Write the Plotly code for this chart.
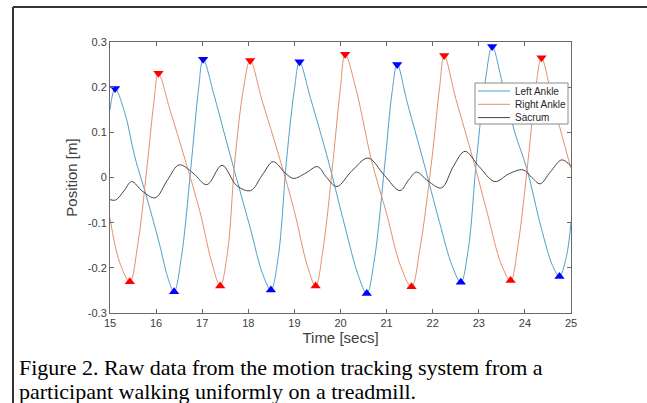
import plotly.graph_objects as go

# ---- data ----
left_t = [15.00, 15.11, 15.33, 15.54, 15.80, 16.08, 16.25, 16.39, 16.55, 16.77, 16.92, 17.02,
          17.25, 17.50, 17.74, 18.05, 18.30, 18.49, 18.65, 18.83, 19.00, 19.11,
          19.35, 19.73, 20.10, 20.38, 20.57, 20.73, 20.97, 21.12, 21.23,
          21.45, 21.79, 22.15, 22.42, 22.61, 22.77, 22.95, 23.15, 23.29,
          23.52, 23.78, 24.04, 24.35, 24.60, 24.75, 24.90, 25.00]
left_y = [0.150, 0.197, 0.140, 0.045, -0.045, -0.150, -0.220, -0.253, -0.175, 0.039, 0.195, 0.262,
          0.185, 0.090, 0.000, -0.115, -0.210, -0.249, -0.175, 0.039, 0.195, 0.256,
          0.175, 0.039, -0.110, -0.215, -0.257, -0.185, 0.039, 0.190, 0.250,
          0.165, 0.039, -0.100, -0.195, -0.232, -0.160, 0.039, 0.220, 0.290,
          0.205, 0.100, 0.020, -0.110, -0.195, -0.219, -0.175, -0.100]

right_t = [15.00, 15.20, 15.43, 15.60, 15.80, 15.95, 16.05,
           16.30, 16.63, 16.95, 17.20, 17.39, 17.55, 17.71, 17.90, 18.04,
           18.30, 18.69, 19.00, 19.28, 19.46, 19.62, 19.84, 20.00, 20.10,
           20.35, 20.67, 21.00, 21.30, 21.54, 21.72, 21.98, 22.15, 22.25,
           22.50, 22.88, 23.20, 23.48, 23.69, 23.85, 24.07, 24.25, 24.36,
           24.60, 25.00]
right_y = [-0.090, -0.185, -0.231, -0.150, 0.020, 0.165, 0.231,
           0.150, 0.039, -0.075, -0.185, -0.240, -0.165, 0.039, 0.200, 0.259,
           0.170, 0.039, -0.075, -0.195, -0.240, -0.160, 0.039, 0.200, 0.273,
           0.190, 0.039, -0.080, -0.195, -0.242, -0.160, 0.039, 0.200, 0.270,
           0.175, 0.039, -0.085, -0.190, -0.228, -0.150, 0.039, 0.210, 0.265,
           0.170, 0.020]

sacrum_t = [15.00, 15.12, 15.30, 15.47, 15.70, 15.98, 16.25, 16.50, 16.80, 17.10, 17.43, 17.75,
            18.05, 18.30, 18.54, 18.80, 18.98, 19.25, 19.50, 19.70, 19.92, 20.25, 20.60, 20.95,
            21.29, 21.48, 21.65, 21.90, 22.19, 22.45, 22.70, 23.00, 23.35, 23.65, 23.96, 24.15,
            24.33, 24.55, 24.80, 25.00]
sacrum_y = [-0.049, -0.050, -0.030, -0.009, -0.030, -0.045, -0.005, 0.028, 0.010, -0.016, 0.027, -0.018,
            -0.029, 0.005, 0.035, 0.010, -0.002, 0.010, 0.024, 0.000, -0.020, 0.015, 0.043, 0.005,
            -0.029, -0.005, 0.012, -0.008, -0.023, 0.025, 0.058, 0.025, -0.009, 0.008, 0.017, 0.000,
            -0.014, 0.012, 0.039, 0.025]

left_peak_t = [15.11, 17.02, 19.11, 21.23, 23.29]
left_peak_y = [0.197, 0.262, 0.256, 0.250, 0.290]
left_trough_t = [16.39, 18.49, 20.57, 22.61, 24.75]
left_trough_y = [-0.253, -0.249, -0.257, -0.232, -0.219]
right_peak_t = [16.05, 18.04, 20.10, 22.25, 24.36]
right_peak_y = [0.231, 0.259, 0.273, 0.270, 0.265]
right_trough_t = [15.43, 17.39, 19.46, 21.54, 23.69]
right_trough_y = [-0.231, -0.240, -0.240, -0.242, -0.228]

series_names = ["Left Ankle", "Right Ankle", "Sacrum"]
series_colors = ["#4f9fcc", "#e3916a", "#444444"]

x_ticks = list(range(15, 26))
y_ticks = [-0.3, -0.2, -0.1, 0, 0.1, 0.2, 0.3]
y_tick_text = ["-0.3", "-0.2", "-0.1", "0", "0.1", "0.2", "0.3"]

FONT = "Liberation Sans, Arial, Helvetica, sans-serif"
SERIF = "Liberation Serif, Times New Roman, serif"
AX = "#6a6a6a"
TXT = "#404040"

# plot area in pixels (for placing the hand-drawn legend / frame in paper units)
L, R, T, B = 110, 571, 42, 313
def px(xp):
    return (xp - L) / (R - L)
def py(yp):
    return (B - yp) / (B - T)

fig = go.Figure()
for t, y, name, col in [(left_t, left_y, series_names[0], series_colors[0]),
                        (right_t, right_y, series_names[1], series_colors[1]),
                        (sacrum_t, sacrum_y, series_names[2], series_colors[2])]:
    fig.add_trace(go.Scatter(x=t, y=y, mode="lines", name=name, showlegend=False,
                             line=dict(color=col, width=1, shape="spline", smoothing=1.0)))

for tx, ty, sym, col in [(left_peak_t, left_peak_y, "triangle-down", "#0000ff"),
                         (left_trough_t, left_trough_y, "triangle-up", "#0000ff"),
                         (right_peak_t, right_peak_y, "triangle-down", "#ff0000"),
                         (right_trough_t, right_trough_y, "triangle-up", "#ff0000")]:
    fig.add_trace(go.Scatter(x=tx, y=ty, mode="markers", showlegend=False,
                             marker=dict(symbol=sym, size=9, color=col, line=dict(width=0))))

fig.update_layout(
    width=647, height=403,
    margin=dict(l=L, r=647 - R, t=T, b=403 - B),
    paper_bgcolor="white", plot_bgcolor="white",
    font=dict(family=FONT, color=TXT, size=11),
    showlegend=False,
)
fig.update_xaxes(range=[15, 25], tickvals=x_ticks, ticks="inside", ticklen=4,
                 tickcolor=AX, showline=True, linecolor=AX, linewidth=1, mirror="allticks",
                 showgrid=False, zeroline=False, tickfont=dict(size=11, color=TXT),
                 title=dict(text="Time [secs]", font=dict(size=15, color=TXT), standoff=3))
fig.update_yaxes(range=[-0.3, 0.3], tickvals=y_ticks, ticktext=y_tick_text, ticks="inside",
                 ticklen=4, tickcolor=AX, showline=True, linecolor=AX, linewidth=1,
                 mirror="allticks", showgrid=False, zeroline=False,
                 tickfont=dict(size=11, color=TXT),
                 title=dict(text="Position [m]", font=dict(size=15, color=TXT), standoff=6))

# legend box (drawn compactly like the MATLAB legend)
fig.add_shape(type="rect", xref="paper", yref="paper", x0=px(475), x1=px(568), y0=py(124), y1=py(83),
              line=dict(color="#8a8a8a", width=1), fillcolor="white", layer="above")
for i, (name, col) in enumerate(zip(series_names, series_colors)):
    yy = py(91 + i * 13.3)
    fig.add_shape(type="line", xref="paper", yref="paper", x0=px(478), x1=px(510), y0=yy, y1=yy,
                  line=dict(color=col, width=1), layer="above")
    fig.add_annotation(text=name, xref="paper", yref="paper", x=px(513), y=yy,
                       xanchor="left", yanchor="middle", showarrow=False,
                       font=dict(family=FONT, size=10, color="#262626"))

# figure frame (top and left edges visible)
fig.add_shape(type="line", xref="paper", yref="paper", x0=px(13), x1=px(660), y0=py(7), y1=py(7),
              line=dict(color="#333333", width=2))
fig.add_shape(type="line", xref="paper", yref="paper", x0=px(13), x1=px(13), y0=py(7), y1=py(420),
              line=dict(color="#333333", width=2))

fig.add_annotation(text="Figure 2. Raw data from the motion tracking system from a",
                   xref="paper", yref="paper", x=px(17), y=py(367), xanchor="left", yanchor="middle",
                   showarrow=False, font=dict(family=SERIF, size=22, color="black"))
fig.add_annotation(text="participant walking uniformly on a treadmill.",
                   xref="paper", yref="paper", x=px(17), y=py(391), xanchor="left", yanchor="middle",
                   showarrow=False, font=dict(family=SERIF, size=22, color="black"))

fig.write_html("out.html")
